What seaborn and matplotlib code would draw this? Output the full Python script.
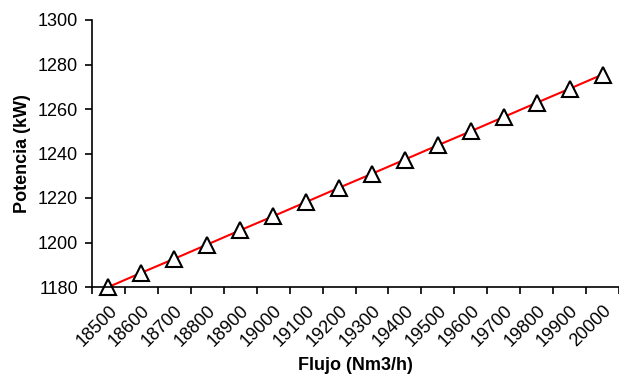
import matplotlib
matplotlib.use("Agg")
import matplotlib.pyplot as plt
import seaborn as sns
import pandas as pd
import numpy as np

flujo = ["18500", "18600", "18700", "18800", "18900", "19000", "19100", "19200",
         "19300", "19400", "19500", "19600", "19700", "19800", "19900", "20000"]
potencia = [1180.0, 1186.4, 1192.7, 1199.1, 1205.5, 1211.8, 1218.2, 1224.6,
            1230.9, 1237.3, 1243.7, 1250.0, 1256.4, 1262.8, 1269.1, 1275.5]

sns.set_style("white")
plt.rcParams['font.family'] = ['Liberation Sans', 'DejaVu Sans']
plt.rcParams['text.color'] = 'black'
plt.rcParams['axes.labelcolor'] = 'black'
plt.rcParams['xtick.color'] = 'black'
plt.rcParams['ytick.color'] = 'black'

df = pd.DataFrame({"Flujo": flujo, "Potencia": potencia})

fig = plt.figure(figsize=(6.19, 3.76), dpi=100)
ax = fig.add_axes([92/619, 1-287/376, 1-92/619, (287-20)/376])

sns.lineplot(data=df, x="Flujo", y="Potencia", ax=ax, color="#ff0000", linewidth=1.5,
             marker="^", markersize=11, markerfacecolor="white",
             markeredgecolor="black", markeredgewidth=1.5, sort=False, clip_on=False)

n = len(flujo)
ax.set_xlim(-0.5, n - 0.5)
ax.set_ylim(1180, 1300)
ax.set_yticks(np.arange(1180, 1301, 20))
ax.set_xticks(range(n))
ax.set_xticklabels(flujo, rotation=45, ha="right", rotation_mode="anchor")
ax.set_xticks(np.arange(-0.5, n, 1), minor=True)
ax.tick_params(axis="x", which="major", length=0, pad=11, labelsize=13, labelcolor="black")
ax.tick_params(axis="x", which="minor", length=5, width=1.2, color="black", direction="out", bottom=True)
ax.tick_params(axis="y", which="major", length=5, width=1.2, color="black", direction="out",
               left=True, labelsize=13, pad=5, labelcolor="black")

for s in ["top", "right"]:
    ax.spines[s].set_visible(False)
for s in ["left", "bottom"]:
    ax.spines[s].set_color("black")
    ax.spines[s].set_linewidth(1.2)

ax.set_xlabel("Flujo (Nm3/h)", fontsize=13, fontweight="bold", labelpad=5, color="black")
ax.set_ylabel("Potencia (kW)", fontsize=13, fontweight="bold", labelpad=5, color="black")
ax.grid(False)

fig.savefig("out.png", dpi=100)
